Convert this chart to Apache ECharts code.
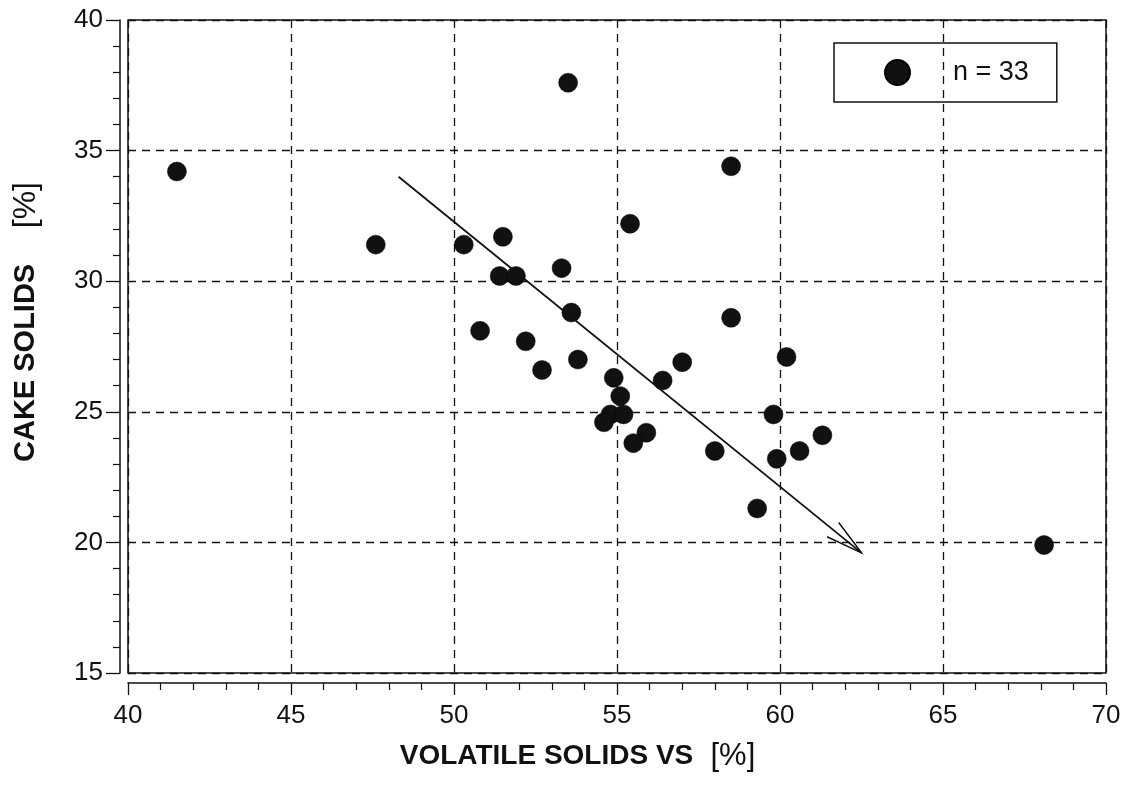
<!DOCTYPE html>
<html>
<head>
<meta charset="utf-8">
<script src="https://cdn.jsdelivr.net/npm/echarts@6/dist/echarts.min.js"></script>
<style>html,body{margin:0;padding:0;background:#fff}#c{width:1124px;height:789px}</style>
</head>
<body>
<div id="c"></div>
<script>
// Volatile solids VS [%]
const volatileSolids = [41.5, 47.6, 50.3, 51.5, 51.4, 51.9, 53.3, 53.5, 53.6, 50.8, 52.2,
  52.7, 53.8, 58.5, 60.2, 57.0, 56.4, 54.9, 55.1, 54.8, 55.2, 54.6, 55.9, 55.5, 58.0,
  59.3, 59.8, 59.9, 60.6, 61.3, 58.5, 55.4, 68.1];
// Cake solids [%]
const cakeSolids = [34.2, 31.4, 31.4, 31.7, 30.2, 30.2, 30.5, 37.6, 28.8, 28.1, 27.7,
  26.6, 27.0, 28.6, 27.1, 26.9, 26.2, 26.3, 25.6, 24.9, 24.9, 24.6, 24.2, 23.8, 23.5,
  21.3, 24.9, 23.2, 23.5, 24.1, 34.4, 32.2, 19.9];
// Trend arrow (start -> end), in data units
const arrowStart = [48.3, 34.0];
const arrowEnd = [62.5, 19.6];
const xTicks = [40, 45, 50, 55, 60, 65, 70];
const yTicks = [15, 20, 25, 30, 35, 40];
const seriesName = 'n = 33';

const points = volatileSolids.map((v, i) => [v, cakeSolids[i]]);
const FONT = '"Liberation Sans", Arial, sans-serif';
const INK = '#111111';

const chart = echarts.init(document.getElementById('c'), null, {renderer: 'canvas'});
chart.setOption({
  animation: false,
  backgroundColor: '#ffffff',
  grid: {left: 128, right: 18, top: 20, bottom: 116, show: true, borderColor: INK, borderWidth: 1.5, backgroundColor: 'transparent'},
  legend: {
    data: [seriesName],
    left: 834, top: 43,
    padding: [16, 28, 16, 50],
    borderColor: INK, borderWidth: 1.5,
    itemWidth: 25, itemHeight: 25,
    icon: 'circle',
    itemStyle: {opacity: 1, color: INK},
    textStyle: {fontFamily: FONT, fontSize: 27, color: INK, padding: [0, 0, 0, 38], lineHeight: 26}
  },
  xAxis: {
    type: 'value', min: xTicks[0], max: xTicks[xTicks.length - 1], interval: 5,
    offset: 10,
    axisLine: {show: true, lineStyle: {color: INK, width: 1.5}},
    axisTick: {show: true, length: 12, lineStyle: {color: INK, width: 1.3}},
    minorTick: {show: true, splitNumber: 5, length: 7, lineStyle: {color: INK, width: 1.2}},
    axisLabel: {fontFamily: FONT, fontSize: 26, color: INK, margin: 20},
    splitLine: {show: true, lineStyle: {color: INK, type: [8, 6], width: 1.3}},
    name: '{b|VOLATILE SOLIDS VS}{n|  [%]}',
    nameLocation: 'middle', nameGap: 58,
    nameTextStyle: {
      padding: [0, 79, 0, 0],
      rich: {
        b: {fontFamily: FONT, fontWeight: 'bold', fontSize: 28, color: INK},
        n: {fontFamily: FONT, fontSize: 31, color: INK}
      }
    }
  },
  yAxis: {
    type: 'value', min: yTicks[0], max: yTicks[yTicks.length - 1], interval: 5,
    offset: 8,
    axisLine: {show: true, lineStyle: {color: INK, width: 1.5}},
    axisTick: {show: true, length: 14, lineStyle: {color: INK, width: 1.3}},
    minorTick: {show: true, splitNumber: 5, length: 7, lineStyle: {color: INK, width: 1.2}},
    axisLabel: {fontFamily: FONT, fontSize: 26, color: INK, margin: 17},
    splitLine: {show: true, lineStyle: {color: INK, type: [8, 6], width: 1.3}},
    name: '{b|CAKE SOLIDS}{n|    [%]}',
    nameLocation: 'middle', nameGap: 78, nameRotate: 90,
    nameTextStyle: {
      padding: [0, 0, 0, 49],
      rich: {
        b: {fontFamily: FONT, fontWeight: 'bold', fontSize: 29, color: INK},
        n: {fontFamily: FONT, fontSize: 32, color: INK}
      }
    }
  },
  series: [
    {
      type: 'custom',
      name: 'trend',
      silent: true,
      data: [[arrowStart[0], arrowStart[1], arrowEnd[0], arrowEnd[1]]],
      encode: {x: [0, 2], y: [1, 3]},
      renderItem: function (params, api) {
        const p0 = api.coord([api.value(0), api.value(1)]);
        const p1 = api.coord([api.value(2), api.value(3)]);
        const ang = Math.atan2(p0[1] - p1[1], p0[0] - p1[0]);
        const L = 38, a = 14 * Math.PI / 180;
        const b1 = [p1[0] + L * Math.cos(ang + a), p1[1] + L * Math.sin(ang + a)];
        const b2 = [p1[0] + L * Math.cos(ang - a), p1[1] + L * Math.sin(ang - a)];
        return {
          type: 'group',
          children: [
            {type: 'line', shape: {x1: p0[0], y1: p0[1], x2: p1[0], y2: p1[1]}, style: {stroke: INK, lineWidth: 1.8}},
            {type: 'polyline', shape: {points: [b1, p1, b2]}, style: {stroke: INK, lineWidth: 1.5, fill: null}}
          ]
        };
      },
      z: 3
    },
    {
      type: 'scatter',
      name: seriesName,
      data: points,
      symbol: 'circle',
      symbolSize: 19,
      itemStyle: {color: INK, opacity: 1, borderColor: '#000', borderWidth: 0.5},
      z: 4
    }
  ]
});
</script>
</body>
</html>
